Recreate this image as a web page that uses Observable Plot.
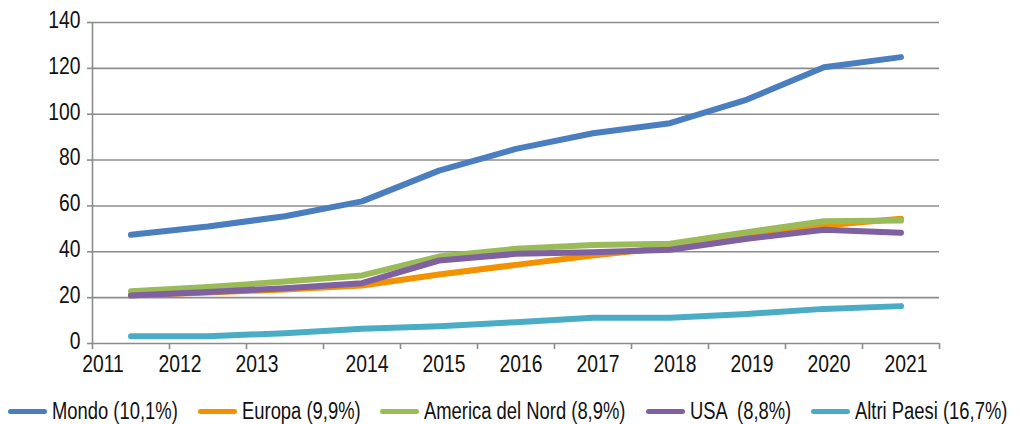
<!DOCTYPE html>
<html>
<head>
<meta charset="utf-8">
<script src="https://cdn.jsdelivr.net/npm/d3@7"></script>
<script src="https://cdn.jsdelivr.net/npm/@observablehq/plot@0.6"></script>
<style>
  html, body { margin: 0; padding: 0; background: #fff; }
  body { width: 1020px; height: 424px; overflow: hidden; font-family: "Liberation Sans", Arial, sans-serif; }
  #legend { display: flex; align-items: center; height: 39px; padding-top: 13px; box-sizing: border-box; padding-left: 8px; gap: 20px; font-size: 23px; color: #111; }
  .item { display: flex; align-items: center; gap: 5px; white-space: pre; }
  .sw { width: 39px; height: 5px; border-radius: 3px; flex: none; }
  .lt { display: inline-block; transform-origin: 0 50%; }
</style>
</head>
<body>
<div id="chart"></div>
<div id="legend"></div>
<script>
const years = [2011, 2012, 2013, 2014, 2015, 2016, 2017, 2018, 2019, 2020, 2021];
const yTicks = [0, 20, 40, 60, 80, 100, 120, 140];

const mondo       = [47.4, 51.0, 55.5, 62.0, 75.4, 84.9, 91.7, 96.1, 106.4, 120.5, 124.9];
const europa      = [21.0, 22.2, 23.6, 25.3, 30.1, 34.3, 38.4, 42.0, 46.4, 51.5, 54.4];
const america     = [22.8, 24.6, 27.0, 29.7, 37.9, 41.3, 43.0, 43.5, 48.5, 53.3, 53.6];
const usa         = [20.9, 22.5, 24.1, 26.3, 36.2, 39.1, 39.8, 40.9, 45.7, 49.6, 48.3];
const altriPaesi  = [3.2, 3.2, 4.5, 6.4, 7.5, 9.3, 11.2, 11.2, 12.9, 15.1, 16.3];

const seriesNames  = ["Mondo (10,1%)", "Europa (9,9%)", "America del Nord (8,9%)", "USA  (8,8%)", "Altri Paesi (16,7%)"];
const seriesValues = [mondo, europa, america, usa, altriPaesi];
const seriesColors = ["#4a7ebf", "#f39200", "#9bbb59", "#7f60a0", "#4bacc6"];

const data = seriesNames.flatMap((name, s) =>
  years.map((year, i) => ({ name, year, value: seriesValues[s][i] })));

const boundaries = d3.range(years.length + 1).map(i => years[0] - 0.5 + i);
const grey = "#8c8c8c";
const font = "'Liberation Sans', Arial, sans-serif";
const narrowAxis = 0.84;
const narrowLegend = 0.8;

const chart = Plot.plot({
  width: 1020,
  height: 385,
  marginLeft: 92,
  marginRight: 81,
  marginTop: 22,
  marginBottom: 42,
  style: { fontFamily: font, fontSize: "23px", color: "#111", background: "#fff" },
  x: { type: "linear", domain: [boundaries[0], boundaries[boundaries.length - 1]] },
  y: { domain: [0, 140] },
  color: { domain: seriesNames, range: seriesColors },
  marks: [
    Plot.gridY(yTicks.filter(d => d > 0), { stroke: grey, strokeOpacity: 1, strokeWidth: 1.6 }),
    Plot.ruleY([0], { stroke: grey, strokeWidth: 1.6 }),
    Plot.ruleX([boundaries[0]], { stroke: grey, strokeWidth: 1.6 }),
    Plot.axisY({ ticks: yTicks, tickSize: 5, tickFormat: () => "", stroke: grey, strokeWidth: 1.6, label: null }),
    Plot.axisY({ ticks: yTicks, tickSize: 0, tickPadding: 12, dy: -2, label: null, fontSize: 23 }),
    Plot.axisX({ ticks: boundaries, tickSize: 6, tickFormat: () => "", stroke: grey, strokeWidth: 1.6, label: null }),
    Plot.axisX({ ticks: years.slice(0, 3), tickSize: 0, tickPadding: 12, dx: -28, tickFormat: d => String(d), label: null, fontSize: 23 }),
    Plot.axisX({ ticks: years.slice(3), tickSize: 0, tickPadding: 12, dx: 5, tickFormat: d => String(d), label: null, fontSize: 23 }),
    Plot.line(data, { x: "year", y: "value", z: "name", stroke: "name", strokeWidth: 6, strokeLinecap: "round", strokeLinejoin: "round" })
  ]
});
// condense the tick label glyphs horizontally (reference uses a condensed face)
chart.querySelectorAll('g[aria-label$="tick label"] text').forEach(t => {
  const tr = t.getAttribute("transform") || "";
  t.setAttribute("transform", tr + ` scale(${narrowAxis},1)`);
});
document.getElementById("chart").appendChild(chart);

const legend = document.getElementById("legend");
const labels = [];
seriesNames.forEach((name, i) => {
  const item = document.createElement("div");
  item.className = "item";
  const sw = document.createElement("span");
  sw.className = "sw";
  sw.style.background = seriesColors[i];
  const t = document.createElement("span");
  t.className = "lt";
  t.textContent = name;
  item.appendChild(sw);
  item.appendChild(t);
  legend.appendChild(item);
  labels.push(t);
});
labels.forEach(t => {
  const w = t.getBoundingClientRect().width;
  t.style.transform = `scaleX(${narrowLegend})`;
  t.style.marginRight = `${-w * (1 - narrowLegend)}px`;
});
</script>
</body>
</html>
